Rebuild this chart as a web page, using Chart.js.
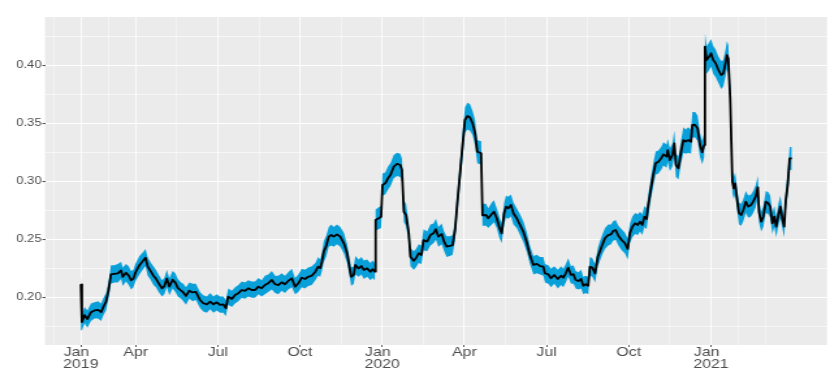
<!DOCTYPE html>
<html>
<head>
<meta charset="utf-8">
<script src="https://cdn.jsdelivr.net/npm/chart.js@4.4.0/dist/chart.umd.min.js"></script>
<style>
  html, body { margin: 0; padding: 0; background: #fff; }
</style>
</head>
<body>
<canvas id="c" width="638" height="382" style="display:block;width:830px;height:382px"></canvas>
<script>
// position along the time axis (Jan 2019 = 0, as laid out in the picture)
var t = [0.00,0.04,0.14,0.24,0.37,0.50,0.63,0.74,0.83,0.92,1.01,1.10,1.22,1.35,1.47,1.53,1.65,1.75,1.83,1.92,1.99,2.14,2.26,2.36,2.44,2.53,2.65,2.74,2.84,2.96,3.05,3.14,3.23,3.35,3.45,3.54,3.66,3.74,3.84,3.96,4.08,4.20,
  4.35,4.47,4.60,4.72,4.84,4.96,5.08,5.20,5.29,5.38,5.51,5.63,5.75,5.87,5.99,6.11,6.24,6.36,6.48,6.60,6.72,6.84,6.97,7.09,7.21,7.33,7.45,7.57,7.70,7.82,7.94,8.06,8.18,8.30,8.43,
  8.56,8.66,8.74,8.80,8.87,8.95,9.05,9.14,9.23,9.35,9.47,9.60,9.72,9.78,9.87,9.96,10.02,10.14,10.24,10.33,10.45,10.57,10.65,10.73,10.76,10.87,10.96,11.01,11.11,11.21,11.30,11.42,11.54,11.66,11.72,11.79,11.87,11.97,12.03,12.15,12.23,12.33,12.43,12.51,12.64,12.76,
  12.87,12.96,13.05,13.17,13.26,13.35,13.47,13.57,13.66,13.74,13.84,13.94,14.02,14.11,14.20,14.30,14.39,14.47,14.57,14.61,14.66,14.79,14.87,15.00,15.08,15.18,15.27,15.36,15.45,15.52,15.60,15.70,15.79,15.91,16.03,16.15,16.27,16.39,16.52,16.64,16.76,16.88,16.94,17.06,
  17.16,17.28,17.41,17.53,17.61,17.70,17.79,17.89,17.98,18.06,18.16,18.26,18.34,18.43,18.52,18.58,18.67,18.77,18.87,18.95,19.03,19.13,19.25,19.35,19.43,19.52,19.62,19.74,19.86,19.96,20.04,20.13,20.23,20.33,20.41,20.49,20.57,20.65,20.71,20.81,20.89,20.98,21.08,21.18,21.26,21.38,
  21.42,21.50,21.59,21.66,21.72,21.81,21.91,21.99,22.08,22.17,22.27,22.32,22.42,22.51,22.60,22.68,22.75,22.78,22.84,22.93,23.00,23.08,23.17,23.27,23.37,23.45,23.54,23.58,23.63,23.70,23.78,23.83,23.88,23.94,24.02,24.10,24.18,24.27,24.36,24.46,24.54,24.63,24.71,24.75,24.83,24.91,25.00,25.09,25.16,25.24,25.31,25.38,25.46,25.53,25.60,25.67,25.73,25.80,25.87,25.95];

// estimate (black line)
var mid = [0.2115,0.1790,0.1850,0.1815,0.1875,0.1890,0.1895,0.1875,0.1925,0.1965,0.2060,0.2200,0.2205,0.2210,0.2235,0.2180,0.2215,0.2190,0.2150,0.2165,0.2215,0.2280,0.2315,0.2345,0.2270,0.2235,0.2190,0.2165,0.2125,0.2080,0.2100,0.2165,0.2095,0.2155,0.2130,0.2085,0.2060,0.2045,0.2015,0.2060,0.2045,0.2050,
  0.1980,0.1952,0.1943,0.1966,0.1943,0.1960,0.1937,0.1943,0.1909,0.2009,0.1989,0.2023,0.2038,0.2066,0.2058,0.2081,0.2066,0.2066,0.2095,0.2081,0.2109,0.2124,0.2153,0.2116,0.2109,0.2133,0.2116,0.2144,0.2167,0.2095,0.2124,0.2172,0.2161,0.2180,0.2190,
  0.2224,0.2267,0.2255,0.2310,0.2400,0.2440,0.2526,0.2540,0.2526,0.2546,0.2526,0.2469,0.2383,0.2297,0.2180,0.2196,0.2282,0.2253,0.2273,0.2239,0.2253,0.2224,0.2245,0.2224,0.2670,0.2685,0.2698,0.2972,0.2986,0.3029,0.3058,0.3129,0.3153,0.3144,0.3101,0.2741,0.2713,0.2555,0.2353,0.2319,0.2340,0.2383,0.2368,0.2497,0.2483,0.2540,
  0.2555,0.2590,0.2526,0.2549,0.2483,0.2440,0.2446,0.2454,0.2584,0.2814,0.3072,0.3331,0.3532,0.3566,0.3555,0.3503,0.3417,0.3259,0.3250,0.3245,0.2710,0.2713,0.2685,0.2722,0.2741,0.2685,0.2612,0.2555,0.2728,0.2785,0.2771,0.2799,0.2728,0.2685,0.2627,0.2569,0.2483,0.2368,0.2282,0.2291,0.2273,0.2267,0.2210,0.2202,
  0.2167,0.2196,0.2161,0.2190,0.2172,0.2210,0.2259,0.2196,0.2202,0.2153,0.2144,0.2161,0.2103,0.2116,0.2103,0.2267,0.2259,0.2210,0.2353,0.2403,0.2454,0.2512,0.2540,0.2546,0.2575,0.2584,0.2534,0.2497,0.2469,0.2420,0.2555,0.2612,0.2641,0.2627,0.2655,0.2627,0.2698,0.2678,0.2799,0.2943,0.3058,0.3159,0.3172,0.3201,0.3236,0.3216,
  0.3273,0.3187,0.3230,0.3331,0.3144,0.3116,0.3259,0.3359,0.3345,0.3359,0.3345,0.3489,0.3489,0.3460,0.3316,0.3253,0.3316,0.4164,0.4049,0.4078,0.4107,0.4049,0.4021,0.3963,0.3920,0.3934,0.4034,0.4092,0.4063,0.3719,0.3000,0.2943,0.2986,0.2871,0.2728,0.2713,0.2756,0.2828,0.2785,0.2799,0.2828,0.2871,0.2952,0.2741,0.2655,0.2698,0.2828,0.2814,0.2785,0.2641,0.2698,0.2612,0.2713,0.2785,0.2685,0.2612,0.2842,0.2972,0.3201,0.3201];

// lower edge of the blue band
var lo = [0.204,0.172,0.178,0.174,0.180,0.182,0.182,0.180,0.185,0.189,0.199,0.212,0.213,0.213,0.216,0.210,0.214,0.211,0.207,0.209,0.214,0.220,0.224,0.227,0.219,0.216,0.211,0.209,0.205,0.201,0.203,0.209,0.202,0.208,0.205,0.201,0.199,0.197,0.194,0.199,0.197,0.198,
  0.191,0.188,0.187,0.190,0.187,0.189,0.187,0.187,0.184,0.194,0.192,0.195,0.197,0.200,0.199,0.201,0.200,0.200,0.203,0.201,0.203,0.205,0.207,0.204,0.203,0.206,0.204,0.207,0.209,0.203,0.205,0.209,0.208,0.210,0.211,
  0.215,0.219,0.218,0.223,0.231,0.235,0.244,0.245,0.244,0.246,0.244,0.238,0.230,0.222,0.210,0.212,0.220,0.218,0.220,0.216,0.218,0.215,0.217,0.215,0.258,0.259,0.260,0.288,0.289,0.293,0.296,0.303,0.305,0.304,0.300,0.265,0.262,0.247,0.227,0.224,0.226,0.230,0.229,0.241,0.240,0.245,
  0.247,0.250,0.244,0.246,0.240,0.235,0.236,0.237,0.250,0.272,0.297,0.322,0.342,0.345,0.344,0.340,0.331,0.316,0.315,0.315,0.262,0.262,0.260,0.263,0.265,0.260,0.252,0.247,0.263,0.269,0.268,0.270,0.263,0.260,0.254,0.248,0.240,0.229,0.220,0.221,0.220,0.219,0.213,0.212,
  0.209,0.212,0.208,0.211,0.209,0.213,0.218,0.212,0.212,0.208,0.207,0.208,0.203,0.204,0.203,0.219,0.218,0.213,0.227,0.232,0.237,0.242,0.245,0.246,0.249,0.250,0.245,0.241,0.238,0.233,0.247,0.252,0.255,0.254,0.257,0.254,0.261,0.259,0.270,0.285,0.296,0.306,0.307,0.310,0.314,0.312,
  0.317,0.309,0.313,0.322,0.304,0.302,0.316,0.325,0.324,0.325,0.324,0.338,0.338,0.335,0.321,0.315,0.321,0.405,0.393,0.396,0.399,0.393,0.390,0.385,0.380,0.382,0.392,0.397,0.395,0.360,0.290,0.285,0.289,0.278,0.263,0.262,0.266,0.273,0.269,0.270,0.273,0.278,0.286,0.265,0.257,0.261,0.273,0.272,0.269,0.255,0.261,0.252,0.262,0.269,0.260,0.252,0.275,0.288,0.310,0.310];

// upper edge of the blue band
var hi = [0.219,0.186,0.192,0.189,0.195,0.196,0.197,0.195,0.200,0.204,0.213,0.228,0.228,0.229,0.231,0.226,0.229,0.227,0.223,0.224,0.229,0.236,0.239,0.242,0.235,0.231,0.227,0.224,0.220,0.215,0.217,0.224,0.217,0.223,0.221,0.216,0.213,0.212,0.209,0.213,0.212,0.212,
  0.205,0.202,0.201,0.204,0.201,0.203,0.201,0.201,0.198,0.208,0.206,0.209,0.211,0.214,0.213,0.215,0.214,0.214,0.217,0.215,0.219,0.220,0.223,0.219,0.219,0.221,0.219,0.222,0.225,0.217,0.220,0.225,0.224,0.226,0.227,
  0.230,0.235,0.233,0.239,0.249,0.253,0.261,0.263,0.261,0.263,0.261,0.256,0.246,0.238,0.226,0.227,0.236,0.233,0.235,0.232,0.233,0.230,0.232,0.230,0.276,0.278,0.279,0.307,0.308,0.313,0.316,0.323,0.325,0.324,0.320,0.284,0.281,0.264,0.243,0.240,0.242,0.246,0.245,0.259,0.257,0.263,
  0.264,0.268,0.261,0.264,0.257,0.253,0.253,0.254,0.267,0.291,0.317,0.344,0.364,0.368,0.367,0.361,0.353,0.336,0.335,0.335,0.281,0.281,0.277,0.282,0.284,0.277,0.270,0.264,0.282,0.288,0.287,0.289,0.282,0.277,0.272,0.266,0.257,0.245,0.236,0.237,0.235,0.235,0.229,0.228,
  0.225,0.227,0.224,0.227,0.225,0.229,0.234,0.227,0.228,0.223,0.222,0.224,0.218,0.219,0.218,0.235,0.234,0.229,0.243,0.249,0.254,0.260,0.263,0.263,0.266,0.267,0.262,0.259,0.256,0.251,0.264,0.270,0.273,0.272,0.274,0.272,0.279,0.277,0.289,0.304,0.316,0.326,0.327,0.330,0.334,0.332,
  0.337,0.329,0.333,0.344,0.324,0.322,0.336,0.347,0.345,0.347,0.345,0.360,0.360,0.357,0.342,0.335,0.342,0.428,0.417,0.420,0.423,0.417,0.414,0.408,0.404,0.405,0.415,0.421,0.418,0.384,0.310,0.304,0.308,0.297,0.282,0.281,0.285,0.292,0.288,0.289,0.292,0.297,0.305,0.284,0.274,0.279,0.292,0.291,0.288,0.273,0.279,0.270,0.281,0.288,0.277,0.270,0.294,0.307,0.330,0.330];

var xTickPos = [0, 2, 5, 8, 11, 14, 17, 20, 23];
var xTickText = [['Jan\u00a0\u00a0', '2019'], 'Apr', 'Jul', 'Oct', ['Jan\u00a0\u00a0', '2020'], 'Apr', 'Jul', 'Oct', ['Jan\u00a0\u00a0', '2021']];
var xMinorPos = [-1, 1, 3.5, 6.5, 9.5, 12.5, 15.5, 18.5, 21.5, 24, 25];
var yTickPos = [0.20, 0.25, 0.30, 0.35, 0.40];
var yMinorPos = [0.175, 0.225, 0.275, 0.325, 0.375, 0.425];

// the reference is drawn wide: the canvas is stretched horizontally by css
var stretch = 830 / 638;

Chart.defaults.font.family = "'Liberation Sans', Arial, Helvetica, sans-serif";

function pts(ys) {
  return t.map(function (x, i) { return { x: x, y: ys[i] }; });
}

function tickSetter(majors, minors) {
  return function (scale) {
    var ticks = majors.map(function (v) { return { value: v }; })
      .concat(minors.map(function (v) { return { value: v, minor: true }; }));
    ticks.sort(function (a, b) { return a.value - b.value; });
    scale.ticks = ticks;
  };
}

function isMinor(ctx) { return ctx.tick && ctx.tick.minor; }

var panelBg = {
  id: 'panelBg',
  beforeDraw: function (chart) {
    var a = chart.chartArea, ctx = chart.ctx;
    ctx.save();
    ctx.fillStyle = '#ebebeb';
    ctx.fillRect(a.left, a.top, a.right - a.left, a.bottom - a.top);
    ctx.restore();
  }
};

new Chart(document.getElementById('c'), {
  type: 'line',
  data: {
    datasets: [
      { data: pts(mid), borderColor: '#000000', borderWidth: 1.8, pointRadius: 0, fill: false, tension: 0, borderJoinStyle: 'round' },
      { data: pts(lo), borderColor: 'rgba(0,0,0,0)', borderWidth: 0, pointRadius: 0, fill: false, tension: 0 },
      { data: pts(hi), borderColor: 'rgba(0,0,0,0)', borderWidth: 0, pointRadius: 0, fill: '-1', backgroundColor: '#09a0da', tension: 0 }
    ]
  },
  plugins: [panelBg],
  options: {
    responsive: false,
    animation: false,
    devicePixelRatio: 1,
    layout: { padding: { top: 17, right: 638 - 827 / stretch, left: 0, bottom: 0 } },
    plugins: { legend: { display: false }, tooltip: { enabled: false } },
    scales: {
      x: {
        type: 'linear',
        min: -1.3066,
        max: 27.234,
        afterBuildTicks: tickSetter(xTickPos, xMinorPos),
        afterFit: function (s) { s.height = 37; },
        border: { display: false },
        grid: {
          color: '#ffffff',
          lineWidth: function (ctx) { return isMinor(ctx) ? 0.45 : 0.85; },
          tickColor: function (ctx) { return isMinor(ctx) ? 'rgba(0,0,0,0)' : '#333333'; },
          tickWidth: 0.8,
          tickLength: 2
        },
        ticks: {
          autoSkip: false,
          maxRotation: 0,
          minRotation: 0,
          padding: 0,
          color: '#4d4d4d',
          font: { size: 12.2, lineHeight: 0.95 },
          callback: function (v, i, ticks) {
            if (ticks[i].minor) return '';
            return xTickText[xTickPos.indexOf(v)];
          }
        }
      },
      y: {
        min: 0.1592,
        max: 0.442,
        afterBuildTicks: tickSetter(yTickPos, yMinorPos),
        afterFit: function (s) { s.width = 45 / stretch; },
        border: { display: false },
        grid: {
          color: '#ffffff',
          lineWidth: function (ctx) { return isMinor(ctx) ? 0.55 : 1.1; },
          tickColor: function (ctx) { return isMinor(ctx) ? 'rgba(0,0,0,0)' : '#333333'; },
          tickWidth: 0.9,
          tickLength: 2
        },
        ticks: {
          autoSkip: false,
          padding: 0.6,
          color: '#4d4d4d',
          font: { size: 10 },
          callback: function (v, i, ticks) {
            if (ticks[i].minor) return '';
            return v.toFixed(2);
          }
        }
      }
    }
  }
});
</script>
</body>
</html>
